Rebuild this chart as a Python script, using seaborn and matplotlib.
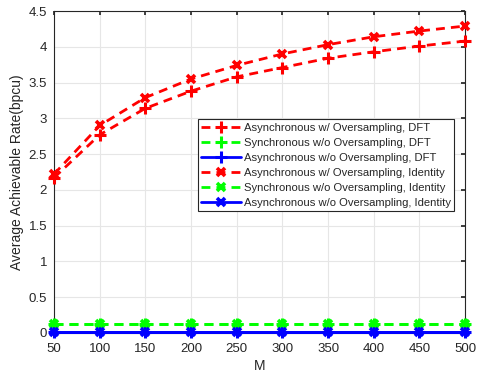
import seaborn as sns
import numpy as np
import pandas as pd
import matplotlib.pyplot as plt

M = [50, 100, 150, 200, 250, 300, 350, 400, 450, 500]
async_os_dft = [2.17, 2.77, 3.14, 3.38, 3.58, 3.71, 3.84, 3.93, 4.01, 4.08]
sync_dft = [0.12, 0.12, 0.12, 0.12, 0.12, 0.12, 0.12, 0.12, 0.12, 0.12]
async_dft = [0.01, 0.01, 0.01, 0.01, 0.01, 0.01, 0.01, 0.01, 0.01, 0.01]
async_os_id = [2.22, 2.90, 3.29, 3.55, 3.74, 3.90, 4.03, 4.14, 4.22, 4.29]
sync_id = [0.12, 0.12, 0.12, 0.12, 0.12, 0.12, 0.12, 0.12, 0.12, 0.12]
async_id = [0.01, 0.01, 0.01, 0.01, 0.01, 0.01, 0.01, 0.01, 0.01, 0.01]

labels = ['Asynchronous w/ Oversampling, DFT',
          'Synchronous w/o Oversampling, DFT',
          'Asynchronous w/o Oversampling, DFT',
          'Asynchronous w/ Oversampling, Identity',
          'Synchronous w/o Oversampling, Identity',
          'Asynchronous w/o Oversampling, Identity']

sns.set_theme(style="whitegrid")
plt.rcParams['font.family'] = ['Liberation Sans', 'DejaVu Sans']

fig = plt.figure(figsize=(4.84, 3.76), dpi=100)
ax = fig.add_axes([0.1116, 0.1144, 0.8492, 0.8563])

series = [async_os_dft, sync_dft, async_dft, async_os_id, sync_id, async_id]
colors = ['#ff0000', '#00ff00', '#0000ff', '#ff0000', '#00ff00', '#0000ff']
markers = ['+', '+', '+', 'x', 'x', 'x']
styles = ['--', '--', '-', '--', '--', '-']

# one lineplot per curve so each gets its own marker / dash
handles = []
for vals, lab, c, m, ls in zip(series, labels, colors, markers, styles):
    df = pd.DataFrame({'M': M, 'rate': vals})
    n0 = len(ax.lines)
    sns.lineplot(data=df, x='M', y='rate', ax=ax, color=c, marker=m,
                 linewidth=2, markersize=8.5 if m == '+' else 6,
                 markeredgewidth=2.2 if m == '+' else 2.6,
                 markeredgecolor=c, legend=False)
    for ln in ax.lines[n0:]:
        if ls == '--':
            ln.set_linestyle((0, (3.2, 2.2)))
        ln.set_label(lab)
        ln.set_clip_on(False)
        ln.set_zorder(3)
        handles.append(ln)

ax.set_xlim(50, 500)
ax.set_ylim(0, 4.5)
ax.set_xticks(M)
ax.set_yticks(np.arange(0, 4.51, 0.5))
ax.set_yticklabels(['0', '0.5', '1', '1.5', '2', '2.5', '3', '3.5', '4', '4.5'])
ax.set_xlabel('M', fontsize=10, color='#262626', labelpad=3)
ax.set_ylabel('Average Achievable Rate(bpcu)', fontsize=10, color='#262626', labelpad=3)
ax.tick_params(labelsize=9.5, colors='#262626', length=3, direction='in',
               top=True, right=True)
ax.tick_params(axis='x', pad=7)
ax.tick_params(axis='y', pad=5)
ax.grid(True, color='#e6e6e6', linewidth=0.8)
for s in ax.spines.values():
    s.set_color('#262626')
    s.set_linewidth(0.8)

leg = ax.legend(handles=handles, loc='lower right', bbox_to_anchor=(0.973, 0.379),
                fontsize=8.1, frameon=True, fancybox=False, edgecolor='#262626',
                framealpha=1, borderpad=0.3, labelspacing=0.44, handlelength=3.5,
                handletextpad=0.27, borderaxespad=0)
leg.get_frame().set_linewidth(0.8)
leg.set_zorder(5)

fig.savefig('out.png', dpi=100)
